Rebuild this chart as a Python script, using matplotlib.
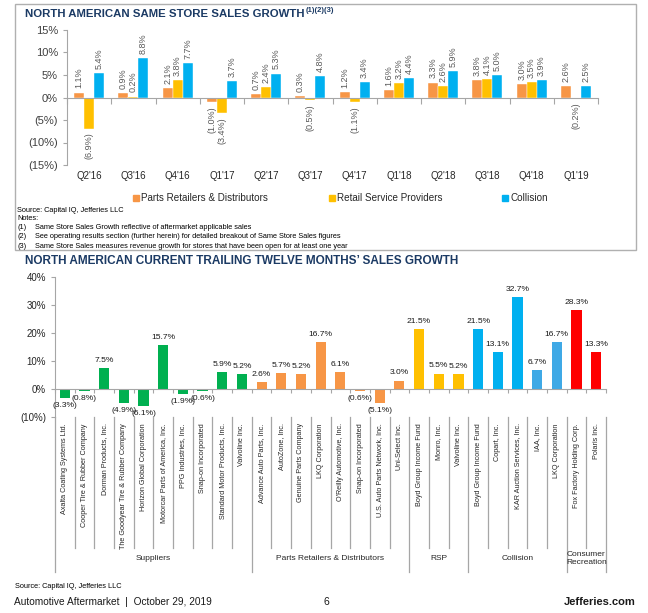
import matplotlib
matplotlib.use("Agg")
import matplotlib.pyplot as plt
import matplotlib.transforms as mtransforms
from matplotlib.patches import Rectangle
import numpy as np

# ---------------- data ----------------
quarters = ["Q2'16", "Q3'16", "Q4'16", "Q1'17", "Q2'17", "Q3'17",
            "Q4'17", "Q1'18", "Q2'18", "Q3'18", "Q4'18", "Q1'19"]
parts_retail = [1.1, 0.9, 2.1, -1.0, 0.7, 0.3, 1.2, 1.6, 3.3, 3.8, 3.0, 2.6]
retail_service = [-6.9, 0.2, 3.8, -3.4, 2.4, -0.5, -1.1, 3.2, 2.6, 4.1, 3.5, -0.2]
collision = [5.4, 8.8, 7.7, 3.7, 5.3, 4.8, 3.4, 4.4, 5.9, 5.0, 3.9, 2.5]
series_names = ["Parts Retailers & Distributors", "Retail Service Providers", "Collision"]

companies = ["Axalta Coating Systems Ltd.", "Cooper Tire & Rubber Company", "Dorman Products, Inc.",
             "The Goodyear Tire & Rubber Company", "Horizon Global Corporation",
             "Motorcar Parts of America, Inc.", "PPG Industries, Inc.", "Snap-on Incorporated",
             "Standard Motor Products, Inc.", "Valvoline Inc.",
             "Advance Auto Parts, Inc.", "AutoZone, Inc.", "Genuine Parts Company", "LKQ Corporation",
             "O'Reilly Automotive, Inc.", "Snap-on Incorporated", "U.S. Auto Parts Network, Inc.",
             "Uni-Select Inc.",
             "Boyd Group Income Fund", "Monro, Inc.", "Valvoline Inc.",
             "Boyd Group Income Fund", "Copart, Inc.", "KAR Auction Services, Inc.", "IAA, Inc.",
             "LKQ Corporation",
             "Fox Factory Holding Corp.", "Polaris Inc."]
ttm_growth = [-3.3, -0.8, 7.5, -4.9, -6.1, 15.7, -1.9, -0.6, 5.9, 5.2,
              2.6, 5.7, 5.2, 16.7, 6.1, -0.6, -5.1, 3.0,
              21.5, 5.5, 5.2,
              21.5, 13.1, 32.7, 6.7, 16.7,
              28.3, 13.3]
groups = ["Suppliers", "Parts Retailers & Distributors", "RSP", "Collision", "Consumer\nRecreation"]
group_sizes = [10, 8, 3, 5, 2]

# ---------------- style ----------------
W, H = 648, 613
NAVY = "#1B3A64"
C_ORANGE = "#F79646"
C_YELLOW = "#FFC000"
C_BLUE = "#00B0F0"
C_GREEN = "#00B050"
C_RED = "#FF0000"
C_LBLUE = "#3FA9E6"
GRAY = "#A6A6A6"
NARROW = ["Liberation Sans Narrow", "Liberation Sans", "DejaVu Sans"]
SANS = ["Liberation Sans", "DejaVu Sans"]
plt.rcParams["font.family"] = SANS


def fx(x):
    return x / W


def fy(y):
    return 1 - y / H


def pct(v):
    return f"({abs(v):.1f}%)" if v < 0 else f"{v:.1f}%"


fig = plt.figure(figsize=(W / 100, H / 100), dpi=100)
renderer = fig.canvas.get_renderer()


def fit(t, target_px):
    """Scale a text's font size so that its width matches target_px."""
    w = t.get_window_extent(renderer=renderer).width
    if w > 0:
        t.set_fontsize(t.get_fontsize() * target_px / w)
    return t


# ---------------- top box ----------------
fig.patches.append(Rectangle((fx(15), fy(250)), fx(636) - fx(15), fy(4) - fy(250),
                             transform=fig.transFigure, fill=False, edgecolor="#B0B0B0", lw=1.0))

t1 = fig.text(fx(25), fy(14), "NORTH AMERICAN SAME STORE SALES GROWTH", fontsize=10,
              fontweight="bold", color=NAVY, family=NARROW, va="center", ha="left")
fit(t1, 277)
bb = t1.get_window_extent(renderer=renderer)
fig.text(bb.x1 / W + 0.001, fy(11), "(1)(2)(3)", fontsize=5.5, fontweight="bold",
         color=NAVY, family=NARROW, va="center", ha="left")

# top axes
ax1 = fig.add_axes([fx(67), fy(165), fx(598) - fx(67), fy(30) - fy(165)])
x = np.arange(len(quarters))
bw = 0.225
series = [parts_retail, retail_service, collision]
cols = [C_ORANGE, C_YELLOW, C_BLUE]
for k, (vals, c) in enumerate(zip(series, cols)):
    xs = x + (k - 1) * bw
    ax1.bar(xs, vals, width=bw, color=c, edgecolor="white", linewidth=0.3, zorder=2)
    for xi, v in zip(xs, vals):
        ax1.annotate(pct(v), (xi, v), xytext=(0, 3 if v >= 0 else -3), textcoords="offset points",
                     rotation=90, ha="center", va="bottom" if v >= 0 else "top",
                     fontsize=6.5, color="#595959")
ax1.set_xlim(-0.5, len(quarters) - 0.5)
ax1.set_ylim(-15, 15)
ax1.set_yticks([15, 10, 5, 0, -5, -10, -15])
ax1.set_yticklabels([pct(v).replace(".0", "") for v in [15, 10, 5, 0, -5, -10, -15]],
                    fontsize=8, color="#404040")
for s in ["top", "right"]:
    ax1.spines[s].set_visible(False)
ax1.spines["left"].set_color(GRAY)
ax1.spines["bottom"].set_position(("data", 0))
ax1.spines["bottom"].set_color(GRAY)
ax1.set_xticks(np.arange(-0.5, len(quarters), 1.0))
ax1.set_xticklabels([])
ax1.tick_params(axis="x", length=4, color=GRAY, direction="out")
ax1.tick_params(axis="y", length=3, color=GRAY)
ax1.set_facecolor("none")
trans1 = mtransforms.blended_transform_factory(ax1.transData, ax1.transAxes)
for xi, q in zip(x, quarters):
    ax1.text(xi, -0.082, q, transform=trans1, ha="center", va="center", fontsize=7, color="#262626")

# legend
for sx, name, c in zip([136, 332, 505], series_names, cols):
    fig.patches.append(Rectangle((fx(sx - 3), fy(201)), fx(6), fy(195) - fy(201),
                                 transform=fig.transFigure, color=c))
    fig.text(fx(sx + 5), fy(198), name, fontsize=7.1, color="#262626", va="center", ha="left")

fs_note = 5.3
fig.text(fx(17), fy(210), "Source: Capital IQ, Jefferies LLC", fontsize=fs_note, family=NARROW,
         va="center")
fig.text(fx(17), fy(219), "Notes:", fontsize=fs_note, family=NARROW, va="center")
note_lines = ["Same Store Sales Growth reflective of aftermarket applicable sales",
              "See operating results section (further herein) for detailed breakout of Same Store Sales figures",
              "Same Store Sales measures revenue growth for stores that have been open for at least one year"]
for i, ln in enumerate(note_lines):
    yy = 228 + 9 * i
    fig.text(fx(17), fy(yy), f"({i + 1})", fontsize=fs_note, family=NARROW, va="center")
    fig.text(fx(35), fy(yy), ln, fontsize=fs_note, family=NARROW, va="center")

# ---------------- bottom chart ----------------
t2 = fig.text(fx(25), fy(261), "NORTH AMERICAN CURRENT TRAILING TWELVE MONTHS\u2019 SALES GROWTH",
              fontsize=10, fontweight="bold", color=NAVY, family=NARROW, va="center", ha="left")
fit(t2, 432)

ax2 = fig.add_axes([fx(55), fy(417), fx(606) - fx(55), fy(277) - fy(417)])
n = len(companies)
xb = np.arange(n)
group_cols = [C_GREEN, C_ORANGE, C_YELLOW, C_BLUE, C_RED]
bar_cols = []
for g, size in enumerate(group_sizes):
    bar_cols += [group_cols[g]] * size
bar_cols[24] = C_LBLUE
bar_cols[25] = C_LBLUE
ax2.bar(xb, ttm_growth, width=0.52, color=bar_cols, zorder=2)
for xi, v in zip(xb, ttm_growth):
    ax2.annotate(pct(v), (xi, v), xytext=(0, 3 if v >= 0 else -3), textcoords="offset points",
                 ha="center", va="bottom" if v >= 0 else "top", fontsize=6.1, color="#1a1a1a")
ax2.set_xlim(-0.5, n - 0.5)
ax2.set_ylim(-10, 40)
ax2.set_yticks([40, 30, 20, 10, 0, -10])
ax2.set_yticklabels([pct(v).replace(".0", "") for v in [40, 30, 20, 10, 0, -10]],
                    fontsize=7, color="#262626")
for s in ["top", "right"]:
    ax2.spines[s].set_visible(False)
ax2.spines["left"].set_color(GRAY)
ax2.spines["bottom"].set_position(("data", 0))
ax2.spines["bottom"].set_color(GRAY)
ax2.set_xticks(np.arange(-0.5, n, 1.0))
ax2.set_xticklabels([])
ax2.tick_params(axis="x", length=3, color=GRAY, direction="out")
ax2.tick_params(axis="y", length=3, color=GRAY)
ax2.set_facecolor("none")

trans2 = mtransforms.blended_transform_factory(ax2.transData, ax2.transAxes)
for xi, name in zip(xb, companies):
    ax2.text(xi, -0.045, name, transform=trans2, rotation=90, ha="center", va="top",
             fontsize=5.2, family=NARROW, color="#262626")
bounds = [-0.5]
for size in group_sizes:
    bounds.append(bounds[-1] + size)
group_bounds = set(bounds)
for b in np.arange(-0.5, n, 1.0):
    low = -1.107 if b in group_bounds else -0.936
    ax2.plot([b, b], [0, low], transform=trans2, color=GRAY, lw=0.9, clip_on=False)
for g, name in enumerate(groups):
    cx = (bounds[g] + bounds[g + 1]) / 2
    ax2.text(cx, -1.012, name, transform=trans2, ha="center", va="center", fontsize=6.0,
             family=NARROW, color="#262626", linespacing=1.1)

# ---------------- footer ----------------
fig.text(fx(15), fy(586), "Source: Capital IQ, Jefferies LLC", fontsize=5.3, family=NARROW, va="center")
ft = fig.text(fx(14), fy(602), "Automotive Aftermarket  |  October 29, 2019", fontsize=8, va="center",
              color="#1a1a1a")
fit(ft, 199)
fig.text(fx(326), fy(602), "6", fontsize=7.5, va="center", ha="center", color="#1a1a1a")
fig.text(fx(636), fy(602), "Jefferies.com", fontsize=8, fontweight="bold", va="center", ha="right",
         color="#1a1a1a")

fig.savefig("out.png", dpi=100)
